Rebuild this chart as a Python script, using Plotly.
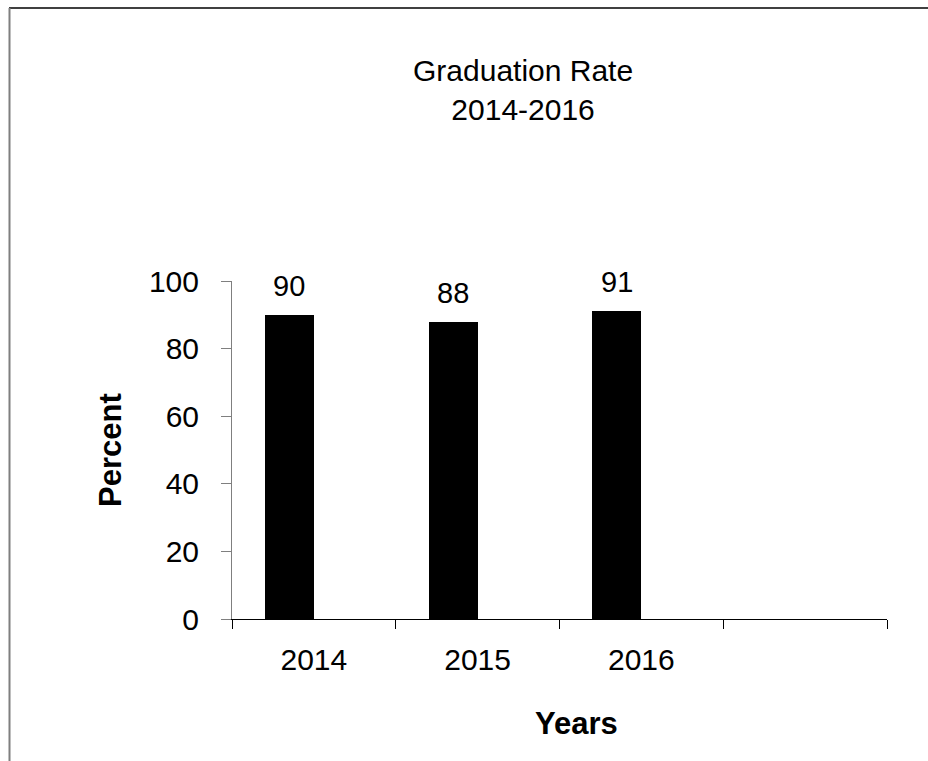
import plotly.graph_objects as go

categories = ["2014", "2015", "2016", " "]
years = ["2014", "2015", "2016"]
rates = [90, 88, 91]
title_lines = ["Graduation Rate", "2014-2016"]
y_ticks = [0, 20, 40, 60, 80, 100]

W, H = 928, 761
L, R, T, B = 232, 41, 281, 142
pw, ph = W - L - R, H - T - B

def px_x(p):
    return (p - L) / pw

def px_y(p):
    return (H - B - p) / ph

FONT = "Liberation Sans, Arial, sans-serif"

fig = go.Figure()
fig.add_trace(go.Bar(
    x=years, y=rates, width=0.3, offset=-0.3,
    marker=dict(color="black", line=dict(width=0)),
    showlegend=False, hoverinfo="x+y",
))

annotations = []
for i, (yr, v) in enumerate(zip(years, rates)):
    annotations.append(dict(x=categories.index(yr), y=v, xref="x", yref="y", text=str(v),
                            showarrow=False, xshift=-0.15 * pw / len(categories),
                            yanchor="bottom", yshift=11,
                            font=dict(family=FONT, size=29, color="black")))

annotations.append(dict(x=px_x(523), y=px_y(90), xref="paper", yref="paper",
                        text="<br>".join(title_lines), showarrow=False,
                        xanchor="center", yanchor="middle",
                        font=dict(family=FONT, size=30, color="black")))
annotations.append(dict(x=px_x(110), y=px_y(450), xref="paper", yref="paper",
                        text="<b>Percent</b>", textangle=-90, showarrow=False,
                        xanchor="center", yanchor="middle",
                        font=dict(family=FONT, size=31, color="black")))
annotations.append(dict(x=px_x(576), y=px_y(723), xref="paper", yref="paper",
                        text="<b>Years</b>", showarrow=False,
                        xanchor="center", yanchor="middle",
                        font=dict(family=FONT, size=31, color="black")))

shapes = [
    dict(type="line", xref="paper", yref="paper", x0=px_x(9), x1=px_x(940),
         y0=px_y(8), y1=px_y(8), line=dict(color="black", width=1.5)),
    dict(type="line", xref="paper", yref="paper", x0=px_x(9.5), x1=px_x(9.5),
         y0=px_y(8), y1=px_y(770), line=dict(color="#7f7f7f", width=2)),
]

fig.update_layout(
    width=W, height=H,
    margin=dict(l=L, r=R, t=T, b=B, pad=0),
    paper_bgcolor="white", plot_bgcolor="white",
    bargap=0,
    annotations=annotations, shapes=shapes,
    font=dict(family=FONT, size=30, color="black"),
    xaxis=dict(type="category", categoryorder="array", categoryarray=categories,
               range=[-0.5, 3.5], tickson="boundaries", ticks="outside", ticklen=9,
               tickcolor="black", showline=True, linecolor="black", linewidth=1,
               showgrid=False, zeroline=False, ticklabelstandoff=14,
               tickfont=dict(family=FONT, size=30, color="black")),
    yaxis=dict(range=[0, 100], tickvals=y_ticks, ticks="outside", ticklen=10,
               tickcolor="#7f7f7f", showline=True, linecolor="#7f7f7f", linewidth=1,
               showgrid=False, zeroline=False, ticklabelstandoff=16,
               tickfont=dict(family=FONT, size=30, color="black")),
)

fig.write_html("out.html")
